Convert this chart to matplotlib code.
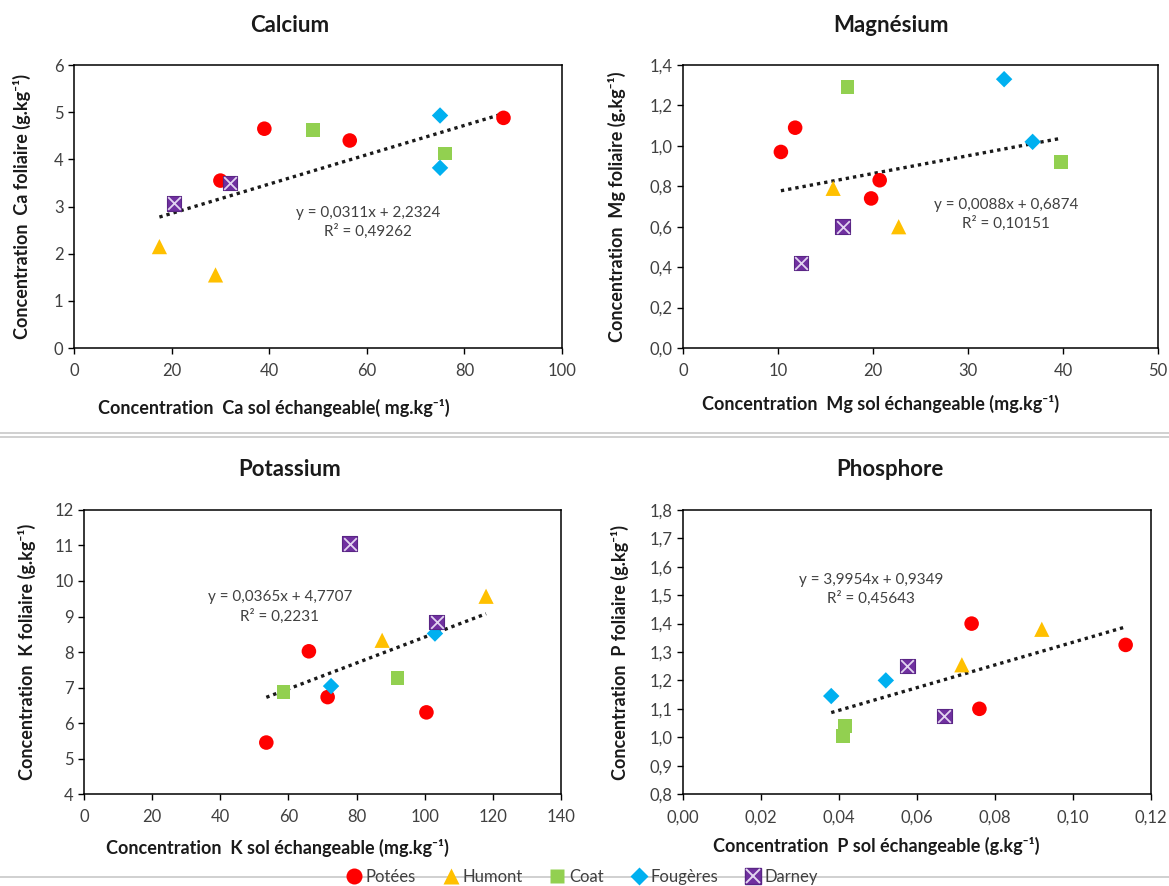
import matplotlib
matplotlib.use("Agg")
import matplotlib.pyplot as plt
from matplotlib.lines import Line2D
from matplotlib.ticker import FuncFormatter
import numpy as np

plt.rcParams["font.family"] = ["Lato", "DejaVu Sans"]

# ---- data ----
sites = ["Potées", "Humont", "Coat", "Fougères", "Darney"]

ca_x = {"Potées": [30, 39, 56.5, 88], "Humont": [17.5, 29], "Coat": [49, 76],
        "Fougères": [75, 75], "Darney": [20.5, 32]}
ca_y = {"Potées": [3.55, 4.65, 4.4, 4.88], "Humont": [2.15, 1.55], "Coat": [4.62, 4.12],
        "Fougères": [4.93, 3.82], "Darney": [3.07, 3.5]}

mg_x = {"Potées": [10.3, 11.8, 19.8, 20.7], "Humont": [15.8, 22.7], "Coat": [17.3, 39.8],
        "Fougères": [33.8, 36.8], "Darney": [16.8, 12.4]}
mg_y = {"Potées": [0.97, 1.09, 0.74, 0.83], "Humont": [0.79, 0.60], "Coat": [1.29, 0.92],
        "Fougères": [1.33, 1.02], "Darney": [0.60, 0.42]}

k_x = {"Potées": [53.5, 66, 71.5, 100.5], "Humont": [87.5, 118], "Coat": [58.5, 92],
       "Fougères": [72.5, 103], "Darney": [78, 103.5]}
k_y = {"Potées": [5.45, 8.02, 6.73, 6.3], "Humont": [8.33, 9.57], "Coat": [6.88, 7.27],
       "Fougères": [7.04, 8.52], "Darney": [11.05, 8.85]}

p_x = {"Potées": [0.074, 0.076, 0.1135], "Humont": [0.0715, 0.092], "Coat": [0.0415, 0.041],
       "Fougères": [0.038, 0.052], "Darney": [0.0575, 0.067]}
p_y = {"Potées": [1.40, 1.10, 1.325], "Humont": [1.255, 1.38], "Coat": [1.04, 1.005],
       "Fougères": [1.145, 1.20], "Darney": [1.25, 1.075]}

# trend lines: slope, intercept, R2 (as printed on the chart)
ca_fit = (0.0311, 2.2324, "0,49262")
mg_fit = (0.0088, 0.6874, "0,10151")
k_fit = (0.0365, 4.7707, "0,2231")
p_fit = (3.9954, 0.9349, "0,45643")

# ---- styles ----
site_style = {
    "Potées": dict(marker="o", color="#ff0000", s=110),
    "Humont": dict(marker="^", color="#ffc000", s=120),
    "Coat": dict(marker="s", color="#92d050", s=95),
    "Fougères": dict(marker="D", color="#00b0f0", s=70),
    "Darney": dict(marker="s", color="#7030a0", s=110),
}
tick_color = "#404040"
text_color = "#1a1a1a"


def fr(v, dec):
    return f"{v:.{dec}f}".replace(".", ",")


def draw_panel(ax, xs, ys, fit, xlim, xstep, xdec, ylim, ystep, ydec,
               xlabel, ylabel, xlab_pos, ylab_x, eq_pos, eq_text):
    for site in sites:
        st = site_style[site]
        ax.scatter(xs[site], ys[site], marker=st["marker"], s=st["s"],
                   color=st["color"], edgecolors="none", zorder=3)
        if site == "Darney":
            ax.scatter(xs[site], ys[site], marker="s", s=st["s"], facecolors="none",
                       edgecolors="#5a2585", linewidths=0.8, zorder=4)
            ax.scatter(xs[site], ys[site], marker="x", s=st["s"] * 0.75,
                       color="#e2d4f0", linewidths=1.3, zorder=5)

    all_x = np.concatenate([xs[s] for s in sites])
    xx = np.array([all_x.min(), all_x.max()])
    ax.plot(xx, fit[0] * xx + fit[1], linestyle=(0, (1, 1.2)), color=text_color,
            linewidth=2.4, zorder=2)

    ax.text(eq_pos[0], eq_pos[1], eq_text + "\nR² = " + fit[2], ha="center", va="center",
            fontsize=11, color="#404040", linespacing=1.35)

    ax.set_xlim(*xlim)
    ax.set_ylim(*ylim)
    ax.set_xticks(np.arange(xlim[0], xlim[1] + xstep / 2, xstep))
    ax.set_yticks(np.arange(ylim[0], ylim[1] + ystep / 2, ystep))
    ax.xaxis.set_major_formatter(FuncFormatter(lambda v, p: fr(v, xdec)))
    ax.yaxis.set_major_formatter(FuncFormatter(lambda v, p: fr(v, ydec)))
    ax.tick_params(direction="out", length=4, width=1, colors="black",
                   labelcolor=tick_color, labelsize=12)
    ax.tick_params(axis="x", pad=7)
    for sp in ax.spines.values():
        sp.set_color("black")
        sp.set_linewidth(1.1)

    ax.set_xlabel(xlabel, fontsize=13, fontweight="bold", color=text_color)
    ax.set_ylabel(ylabel, fontsize=13, fontweight="bold", color=text_color)
    ax.xaxis.set_label_coords(xlab_pos[0], xlab_pos[1])
    ax.yaxis.set_label_coords(ylab_x, 0.5)
    ax.xaxis.label.set_va("center")
    ax.yaxis.label.set_va("center")


fig = plt.figure(figsize=(11.69, 8.86), dpi=100)
fig.patch.set_facecolor("white")

ax_ca = fig.add_axes([0.0633, 0.6072, 0.4175, 0.3194])
ax_mg = fig.add_axes([0.5843, 0.6072, 0.4063, 0.3194])
ax_k = fig.add_axes([0.0719, 0.1038, 0.4080, 0.3206])
ax_p = fig.add_axes([0.5843, 0.1038, 0.4003, 0.3206])

draw_panel(ax_ca, ca_x, ca_y, ca_fit, (0, 100), 20, 0, (0, 6), 1, 0,
           "Concentration  Ca sol échangeable( mg.kg⁻¹)",
           "Concentration  Ca foliaire (g.kg⁻¹)", (0.41, -0.212), -0.107,
           (60.2, 2.66), "y = 0,0311x + 2,2324")
draw_panel(ax_mg, mg_x, mg_y, mg_fit, (0, 50), 10, 0, (0, 1.4), 0.2, 1,
           "Concentration  Mg sol échangeable (mg.kg⁻¹)",
           "Concentration  Mg foliaire (g.kg⁻¹)", (0.415, -0.198), -0.139,
           (34, 0.66), "y = 0,0088x + 0,6874")
draw_panel(ax_k, k_x, k_y, k_fit, (0, 140), 20, 0, (4, 12), 1, 0,
           "Concentration  K sol échangeable (mg.kg⁻¹)",
           "Concentration  K foliaire (g.kg⁻¹)", (0.405, -0.19), -0.119,
           (57.5, 9.27), "y = 0,0365x + 4,7707")
draw_panel(ax_p, p_x, p_y, p_fit, (0, 0.12), 0.02, 2, (0.8, 1.8), 0.1, 1,
           "Concentration  P sol échangeable (g.kg⁻¹)",
           "Concentration  P foliaire (g.kg⁻¹)", (0.412, -0.183), -0.134,
           (0.0483, 1.52), "y = 3,9954x + 0,9349")

# panel titles
titles = ["Calcium", "Magnésium", "Potassium", "Phosphore"]
title_xy = [(290, 25), (891, 25), (290, 470), (890, 470)]
for t, (px, py) in zip(titles, title_xy):
    fig.text(px / 1169, 1 - py / 886, t, ha="center", va="center",
             fontsize=16, fontweight="bold", color=text_color)

# separator lines
for yy in [1 - 433 / 886, 1 - 437 / 886, 1 - 877 / 886]:
    fig.add_artist(Line2D([0, 1], [yy, yy], transform=fig.transFigure,
                          color="#c8c8c8", linewidth=1.2))

# legend
handles = []
for site in sites:
    st = site_style[site]
    base = Line2D([], [], linestyle="none", marker=st["marker"], color=st["color"],
                  markersize=np.sqrt(st["s"]) * 1.1,
                  markeredgecolor="#5a2585" if site == "Darney" else "none")
    if site == "Darney":
        cross = Line2D([], [], linestyle="none", marker="x", color="#e2d4f0",
                       markersize=np.sqrt(st["s"]) * 0.95, markeredgewidth=1.4)
        handles.append((base, cross))
    else:
        handles.append(base)
fig.legend(handles, sites, loc="center", bbox_to_anchor=(581 / 1169, 1 - 877 / 886), ncol=5,
           frameon=False, fontsize=12, handlelength=1.2, handletextpad=0.1,
           columnspacing=1.5, labelcolor="#404040")

fig.savefig("out.png", dpi=100, facecolor="white")
